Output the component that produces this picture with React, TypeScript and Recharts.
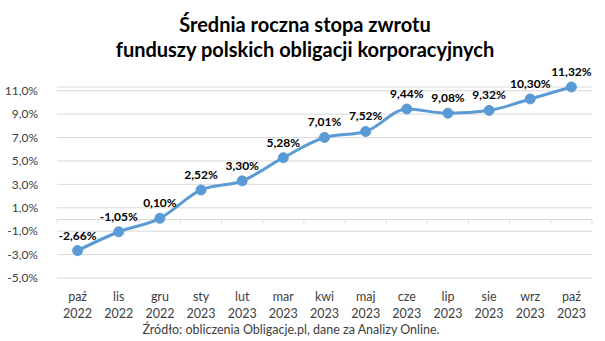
import React from "react"
import { LineChart, Line, XAxis, YAxis, CartesianGrid, LabelList, ReferenceLine } from "recharts"

// Miesiące i lata (oś X) oraz średnia roczna stopa zwrotu w %
const months = ["paź", "lis", "gru", "sty", "lut", "mar", "kwi", "maj", "cze", "lip", "sie", "wrz", "paź"]
const years = ["2022", "2022", "2022", "2023", "2023", "2023", "2023", "2023", "2023", "2023", "2023", "2023", "2023"]
const returns = [-2.66, -1.05, 0.1, 2.52, 3.3, 5.28, 7.01, 7.52, 9.44, 9.08, 9.32, 10.3, 11.32]
const yTicks = [-5, -3, -1, 1, 3, 5, 7, 9, 11]

const data = months.map((m, i) => ({ key: `${m} ${years[i]}`, month: m, year: years[i], value: returns[i] }))

const FONT = "Lato, 'Open Sans', sans-serif"
const BLUE = "#5B9BD5"
const GRID = "#D9D9D9"

const pct = (v: number, digits: number) => `${v.toFixed(digits).replace(".", ",")}%`

function MonthTick(props: any) {
  const { x, y, payload, index } = props
  const row = data[index ?? payload.index] ?? data.find((d) => d.key === payload.value)
  return (
    <text x={x} y={y} textAnchor="middle" fill="#404040" fontSize={12.5} fontFamily={FONT}>
      <tspan x={x} dy={17}>{row?.month}</tspan>
      <tspan x={x} dy={17}>{row?.year}</tspan>
    </text>
  )
}

// linia osi na poziomie 0 z podziałką między kategoriami
function ZeroAxis(props: any) {
  const { x1, x2, y1 } = props
  const step = (x2 - x1) / data.length
  return (
    <g>
      <line x1={x1} x2={x2} y1={y1} y2={y1} stroke={GRID} strokeWidth={1} />
      {data.map((_, i) => (
        <line key={i} x1={x1 + step * (i + 1)} x2={x1 + step * (i + 1)} y1={y1} y2={y1 + 4} stroke={GRID} />
      ))}
      <line x1={x1} x2={x1} y1={y1} y2={y1 + 4} stroke={GRID} />
    </g>
  )
}

export default function App() {
  return (
    <div style={{ position: "absolute", left: 0, top: 0, width: 605, height: 341, background: "#fff" }}>
      <LineChart width={605} height={341} data={data} margin={{ top: 87, right: 13, bottom: 0, left: 0 }}>
        <CartesianGrid vertical={false} stroke={GRID} />
        <XAxis
          dataKey="key"
          height={63}
          axisLine={false}
          tickLine={false}
          tickMargin={0}
          interval={0}
          padding={{ left: 20.6, right: 20.6 }}
          tick={<MonthTick />}
        />
        <YAxis
          width={57}
          domain={[-5, 11]}
          ticks={yTicks}
          axisLine={false}
          tickLine={false}
          tickMargin={13}
          tick={{ fill: "#404040", fontSize: 12, fontFamily: FONT }}
          tickFormatter={(v: number) => pct(v, 1)}
        />
        <ReferenceLine y={0} shape={<ZeroAxis />} />
        <Line
          type="monotone"
          dataKey="value"
          stroke={BLUE}
          strokeWidth={3}
          dot={{ r: 5, fill: BLUE, stroke: BLUE, strokeWidth: 1 }}
          isAnimationActive={false}
        >
          <LabelList
            dataKey="value"
            position="top"
            offset={11}
            formatter={(v: any) => pct(Number(v), 2)}
            style={{ fill: "#000", fontSize: 12, fontWeight: 700, fontFamily: FONT }}
          />
        </Line>
      </LineChart>
      {/* tytuł i źródło */}
      <svg width={605} height={341} style={{ position: "absolute", left: 0, top: 0, pointerEvents: "none" }}>
        <g fontFamily={FONT} textAnchor="middle">
          <text x={305} y={32} fontSize={20} fontWeight={700} fill="#000">Średnia roczna stopa zwrotu</text>
          <text x={305} y={57} fontSize={20} fontWeight={700} fill="#000">funduszy polskich obligacji korporacyjnych</text>
          <text x={291} y={334} fontSize={12.5} fill="#404040">Źródło: obliczenia Obligacje.pl, dane za Analizy Online.</text>
        </g>
      </svg>
    </div>
  )
}
